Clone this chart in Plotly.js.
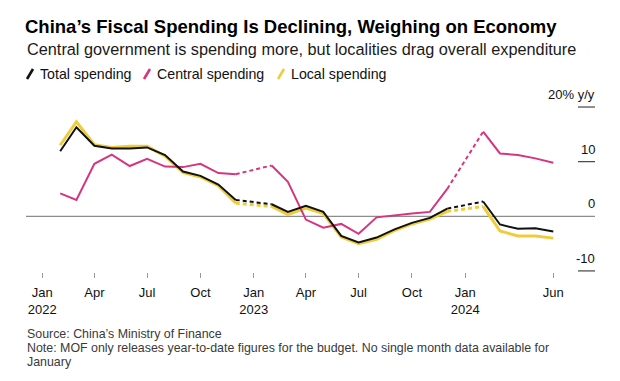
<!DOCTYPE html>
<html>
<head>
<meta charset="utf-8">
<script src="https://cdn.plot.ly/plotly-3.0.1.min.js"></script>
<style>
html,body{margin:0;padding:0;background:#fff;}
#chart{width:620px;height:381px;}
</style>
</head>
<body>
<div id="chart"></div>
<script>
// ---- data (y/y %, monthly; January has no single-month data) ----
const months = [
  '2022-02-01','2022-03-01','2022-04-01','2022-05-01','2022-06-01','2022-07-01','2022-08-01','2022-09-01','2022-10-01','2022-11-01','2022-12-01',
  '2023-01-01','2023-02-01','2023-03-01','2023-04-01','2023-05-01','2023-06-01','2023-07-01','2023-08-01','2023-09-01','2023-10-01','2023-11-01','2023-12-01',
  '2024-01-01','2024-02-01','2024-03-01','2024-04-01','2024-05-01','2024-06-01'
];
const totalSpending = [
  11.9, 16.3, 12.9, 12.4, 12.4, 12.6, 11.2, 8.2, 7.4, 5.8, 3.0,
  null, 2.2, 0.8, 1.9, 0.8, -3.6, -4.8, -3.9, -2.4, -1.2, -0.3, 1.4,
  null, 2.7, -1.5, -2.3, -2.2, -2.8
];
const centralSpending = [
  4.2, 3.0, 9.6, 11.3, 9.2, 10.5, 9.1, 9.0, 9.6, 7.9, 7.7,
  null, 9.3, 6.3, -0.6, -2.1, -1.4, -3.2, -0.2, 0.2, 0.5, 0.8, 5.0,
  null, 15.5, 11.5, 11.2, 10.6, 9.8
];
const localSpending = [
  13.0, 17.3, 13.1, 12.6, 12.8, 12.8, 11.0, 8.0, 7.2, 5.6, 2.4,
  null, 1.8, 0.3, 1.5, 0.5, -3.8, -5.0, -4.2, -2.6, -1.4, -0.5, 0.9,
  null, 1.8, -2.7, -3.6, -3.6, -4.0
];
const seriesNames = ['Total spending', 'Central spending', 'Local spending'];
const xTickVals = ['2022-01-01','2022-04-01','2022-07-01','2022-10-01','2023-01-01','2023-04-01','2023-07-01','2023-10-01','2024-01-01','2024-06-01'];
const xTickText = ['Jan<br>2022','Apr','Jul','Oct','Jan<br>2023','Apr','Jul','Oct','Jan<br>2024','Jun'];
const yTickVals = [20, 10, 0, -10];
const yTickText = ['20% y/y', '10', '0', '-10'];

// ---- styling ----
const colors = {total: '#111111', central: '#d6357f', local: '#efcd3a'};
const FONT = 'Liberation Sans, Arial, sans-serif';

// plot area in pixels (for placing text outside the axes)
const L = 26, R = 595, T = 95, B = 272;
const PX = p => (p - L) / (R - L);
const PY = p => (B - p) / (B - T);

// build traces: solid line with gaps at January, dashed bridge over the gap
function bridges(vals) {
  const xs = [], ys = [];
  for (let i = 0; i < vals.length; i++) {
    if (vals[i] === null && i > 0 && i < vals.length - 1) {
      xs.push(months[i - 1], months[i + 1], null);
      ys.push(vals[i - 1], vals[i + 1], null);
    }
  }
  return {xs, ys};
}
function makeTraces(vals, color, width, name) {
  const b = bridges(vals);
  return [
    {x: months, y: vals, type: 'scatter', mode: 'lines', name: name,
     line: {color: color, width: width}, connectgaps: false, hoverinfo: 'skip'},
    {x: b.xs, y: b.ys, type: 'scatter', mode: 'lines', name: name + ' (Jan)',
     line: {color: color, width: width, dash: '4px,3px'}, connectgaps: false, hoverinfo: 'skip'}
  ];
}
const data = [
  ...makeTraces(localSpending, colors.local, 3, seriesNames[2]),
  ...makeTraces(centralSpending, colors.central, 2, seriesNames[1]),
  ...makeTraces(totalSpending, colors.total, 2, seriesNames[0])
];

// y tick labels (above short lines on the right)
const annotations = [];
const shapes = [];
yTickVals.forEach((v, i) => {
  annotations.push({
    xref: 'paper', yref: 'y', x: 1.003, y: v, xanchor: 'right', yanchor: 'bottom', yshift: 3,
    text: yTickText[i], showarrow: false, font: {family: FONT, size: 13, color: '#111'}
  });
  if (v !== 0) {
    shapes.push({type: 'line', xref: 'paper', yref: 'y', x0: PX(578), x1: 1, y0: v, y1: v,
      line: {color: '#444', width: 1.2}});
  }
});
// zero line
shapes.push({type: 'line', xref: 'paper', yref: 'y', x0: 0, x1: 1, y0: 0, y1: 0,
  line: {color: '#8c8c8c', width: 1.3}, layer: 'below'});

// subtitle
annotations.push({xref: 'paper', yref: 'paper', x: PX(25), y: PY(49), xanchor: 'left', yanchor: 'middle',
  text: 'Central government is spending more, but localities drag overall expenditure',
  showarrow: false, font: {family: FONT, size: 16.3, color: '#1a1a1a'}});

// legend: slanted colour strokes + labels
const legendItems = [
  {x: 27, color: colors.total, name: seriesNames[0]},
  {x: 144, color: colors.central, name: seriesNames[1]},
  {x: 278, color: colors.local, name: seriesNames[2]}
];
legendItems.forEach(it => {
  shapes.push({type: 'line', xref: 'paper', yref: 'paper',
    x0: PX(it.x), y0: PY(79), x1: PX(it.x + 6), y1: PY(69),
    line: {color: it.color, width: 2.6}});
  annotations.push({xref: 'paper', yref: 'paper', x: PX(it.x + 11), y: PY(74), xanchor: 'left', yanchor: 'middle',
    text: it.name, showarrow: false, font: {family: FONT, size: 14.2, color: '#111'}});
});

// footnotes
const notes = [
  ['Source: China\u2019s Ministry of Finance', 334],
  ['Note: MOF only releases year-to-date figures for the budget. No single month data available for', 348],
  ['January', 362]
];
notes.forEach(n => {
  annotations.push({xref: 'paper', yref: 'paper', x: PX(25), y: PY(n[1]), xanchor: 'left', yanchor: 'middle',
    text: n[0], showarrow: false, font: {family: FONT, size: 12.4, color: '#3a3a3a'}});
});

const layout = {
  width: 620, height: 381,
  margin: {l: L, r: 620 - R, t: T, b: 381 - B, pad: 0},
  paper_bgcolor: '#ffffff', plot_bgcolor: '#ffffff',
  showlegend: false,
  title: {text: '<b>China\u2019s Fiscal Spending Is Declining, Weighing on Economy</b>',
    xref: 'container', yref: 'container', x: 25 / 620, xanchor: 'left', y: 1 - 27 / 381, yanchor: 'middle',
    font: {family: FONT, size: 18.5, color: '#000'}},
  xaxis: {type: 'date', range: ['2021-12-04', '2024-08-12'],
    tickvals: xTickVals, ticktext: xTickText,
    ticks: 'outside', ticklen: 5, tickcolor: '#999', tickwidth: 1,
    ticklabelstandoff: 3,
    showgrid: false, zeroline: false, showline: false,
    tickfont: {family: FONT, size: 13, color: '#111'}},
  yaxis: {range: [-10.2, 22.2], showgrid: false, zeroline: false, showline: false,
    showticklabels: false, ticks: ''},
  annotations: annotations,
  shapes: shapes
};

Plotly.newPlot('chart', data, layout, {displayModeBar: false, staticPlot: true});
</script>
</body>
</html>
